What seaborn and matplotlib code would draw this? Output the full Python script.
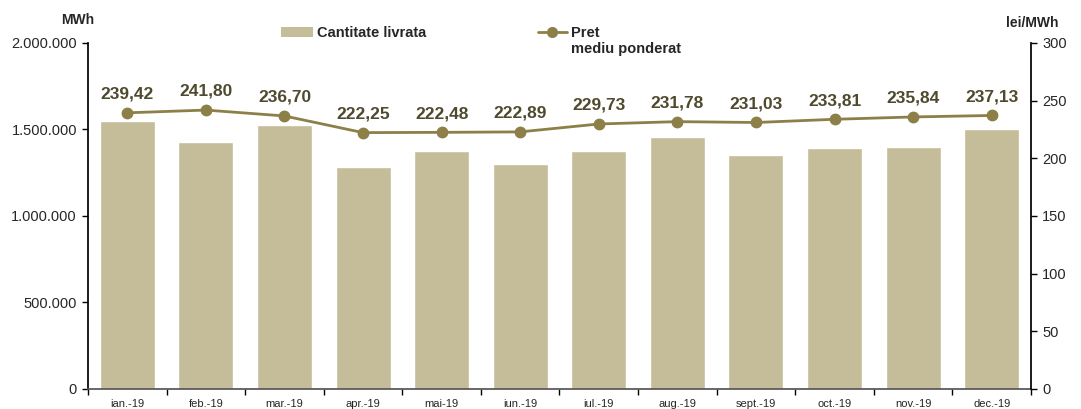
import matplotlib
matplotlib.use('Agg')
import matplotlib.pyplot as plt
import matplotlib.ticker as mticker
from matplotlib.patches import Patch
from matplotlib.lines import Line2D
import numpy as np
import pandas as pd
import seaborn as sns

months = ['ian.-19', 'feb.-19', 'mar.-19', 'apr.-19', 'mai-19', 'iun.-19',
          'iul.-19', 'aug.-19', 'sept.-19', 'oct.-19', 'nov.-19', 'dec.-19']
cantitate = [1549000, 1428000, 1526000, 1283000, 1376000, 1301000,
             1376000, 1457000, 1353000, 1393000, 1399000, 1503000]
pret = [239.42, 241.80, 236.70, 222.25, 222.48, 222.89,
        229.73, 231.78, 231.03, 233.81, 235.84, 237.13]

bar_color = '#C5BD99'
line_color = '#8C8048'
label_color = '#4F4A2E'

sns.set_theme(style='white')
plt.rcParams['font.family'] = ['Liberation Sans', 'DejaVu Sans']

df = pd.DataFrame({'Luna': months, 'Cantitate': cantitate, 'Pret': pret})

fig = plt.figure(figsize=(10.81, 4.09), dpi=100)
ax = fig.add_axes([0.0814, 0.049, 0.8723, 0.846])

sns.barplot(data=df, x='Luna', y='Cantitate', order=months, color=bar_color,
            width=0.7, saturation=1, ax=ax)
ax.set_ylim(0, 2000000)
ax.set_xlim(-0.5, 11.5)
ax.yaxis.set_major_locator(mticker.MultipleLocator(500000))
ax.yaxis.set_major_formatter(mticker.FuncFormatter(lambda v, p: f'{int(v):,}'.replace(',', '.')))
ax.set_xlabel('')
ax.set_ylabel('')

ax2 = ax.twinx()
ax2.plot(np.arange(len(months)), df['Pret'], color=line_color, lw=2,
         marker='o', ms=7.5, zorder=3)
ax2.set_ylim(0, 300)
ax2.set_xlim(-0.5, 11.5)
ax2.yaxis.set_major_locator(mticker.MultipleLocator(50))

for i, v in enumerate(pret):
    ax2.annotate(f'{v:.2f}'.replace('.', ','), (i, v), textcoords='offset points',
                 xytext=(0, 8), ha='center', va='bottom', fontsize=12.5,
                 fontweight='bold', color=label_color)

# spines / ticks
for a in (ax, ax2):
    a.spines['top'].set_visible(False)
    a.spines['left'].set_color('#000000')
    a.spines['right'].set_color('#000000')
    a.spines['bottom'].set_color('#555555')
ax.spines['right'].set_visible(False)
ax2.spines['left'].set_visible(False)
ax2.spines['bottom'].set_visible(False)

ax.tick_params(axis='y', direction='out', length=4, width=1, color='#000000',
               labelsize=10.5, left=True, pad=4)
ax2.tick_params(axis='y', direction='out', length=4, width=1, color='#000000',
                labelsize=10.5, right=True, pad=4)
ax.tick_params(axis='x', which='major', length=0, labelsize=8, pad=7)
ax.set_xticks(np.arange(-0.5, 12, 1), minor=True)
ax.tick_params(axis='x', which='minor', direction='out', length=4, width=1,
               color='#000000', bottom=True)

fig.text(0.072, 0.951, 'MWh', fontsize=10, fontweight='bold', ha='center', va='center')
fig.text(0.955, 0.944, 'lei/MWh', fontsize=10, fontweight='bold', ha='center', va='center')

# legend: bar patch + line, second label spread over two lines
bar_handle = [Patch(facecolor=bar_color, edgecolor='none')]
line_handle = [Line2D([0], [0], color=line_color, lw=2, marker='o', ms=7)]
leg1 = fig.legend(bar_handle, ['Cantitate livrata'], loc='center left',
                  bbox_to_anchor=(0.26, 0.92), frameon=False,
                  prop={'weight': 'bold', 'size': 10.5},
                  handlelength=2.2, handletextpad=0.25, borderaxespad=0, borderpad=0)
leg2 = fig.legend(line_handle, ['Pret'], loc='center left',
                  bbox_to_anchor=(0.4975, 0.92), frameon=False,
                  prop={'weight': 'bold', 'size': 10.5},
                  handlelength=2.0, handletextpad=0.25, borderaxespad=0, borderpad=0)
fig.text(0.528, 0.881, 'mediu ponderat', fontsize=10.5, fontweight='bold',
         ha='left', va='center')

fig.savefig('out.png', dpi=100)
